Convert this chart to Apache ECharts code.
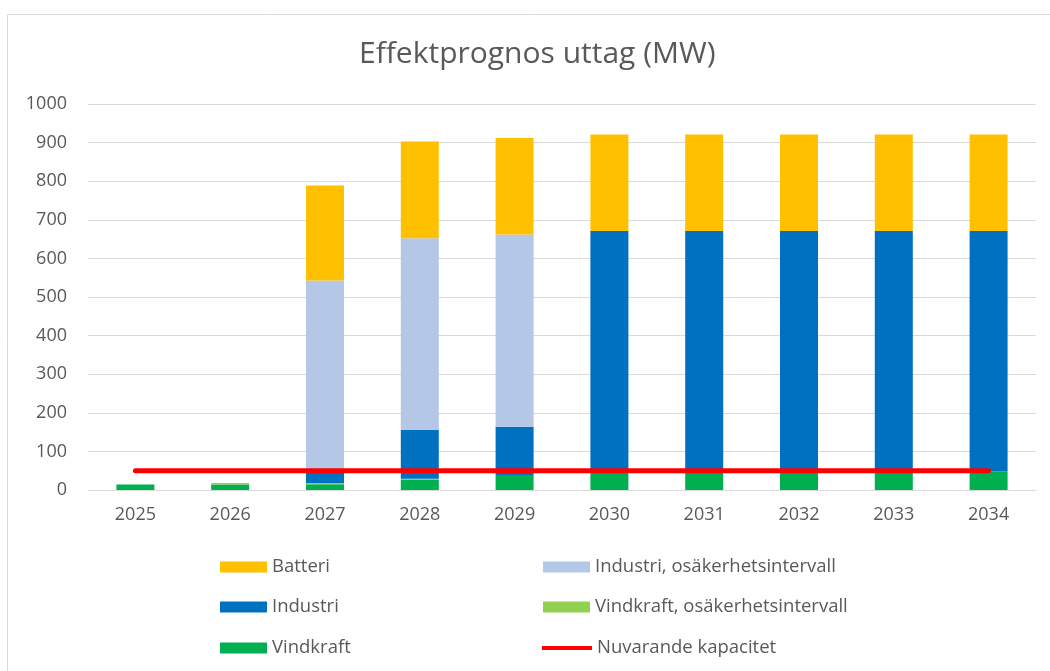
<!DOCTYPE html>
<html>
<head>
<meta charset="utf-8">
<script src="https://cdn.jsdelivr.net/npm/echarts@6/dist/echarts.min.js"></script>
<style>
html,body{margin:0;padding:0;background:#fff;}
#chart{width:1050px;height:671px;}
</style>
</head>
<body>
<div id="chart"></div>
<script>
const years = ['2025','2026','2027','2028','2029','2030','2031','2032','2033','2034'];
const vindkraft = [14, 14, 15, 26, 39, 48, 48, 48, 48, 48];
const vindkraftOsak = [0, 4, 3, 3, 0, 0, 0, 0, 0, 0];
const industri = [0, 0, 30, 127, 125, 623, 623, 623, 623, 623];
const industriOsak = [0, 0, 495, 496, 498, 0, 0, 0, 0, 0];
const batteri = [0, 0, 246, 251, 250, 250, 250, 250, 250, 250];
const nuvarandeKapacitet = [50, 50, 50, 50, 50, 50, 50, 50, 50, 50];
const yTicks = { min: 0, max: 1000, interval: 100 };

const FONT = 'Open Sans';
const GREY = '#595959';
const TITLE = 'Effektprognos uttag (MW)';
const TITLE_SIZE = 30;

function textWidth(txt, size) {
  const c = document.createElement('canvas').getContext('2d');
  c.font = size + 'px "' + FONT + '"';
  return c.measureText(txt).width;
}

const chart = echarts.init(document.getElementById('chart'), null, { renderer: 'canvas' });

function bar(name, data, color) {
  return {
    name, type: 'bar', stack: 'total', data, barWidth: 38,
    itemStyle: { color },
    emphasis: { disabled: true }
  };
}
function legendAt(name, left, top, extra) {
  return Object.assign({
    data: [name], left, top, padding: 0,
    icon: 'rect',
    itemWidth: 47, itemHeight: 11, itemGap: 0,
    selectedMode: false,
    textStyle: { fontFamily: FONT, fontSize: 18.5, color: GREY, lineHeight: 20 }
  }, extra || {});
}

chart.setOption({
  backgroundColor: '#ffffff',
  animation: false,
  title: {
    text: TITLE,
    left: Math.round(537 - textWidth(TITLE, TITLE_SIZE) / 2), top: 37, padding: 0,
    textStyle: { fontFamily: FONT, fontSize: TITLE_SIZE, fontWeight: 'normal', color: GREY, lineHeight: 34 }
  },
  graphic: [{
    type: 'rect', silent: true, z: -10,
    shape: { x: 7.5, y: 14.5, width: 1100, height: 800 },
    style: { fill: 'none', stroke: '#d9d9d9', lineWidth: 1 }
  }],
  grid: { left: 88, right: 14, top: 104, bottom: 181, containLabel: false },
  xAxis: {
    type: 'category', data: years,
    axisLine: { lineStyle: { color: '#d9d9d9', width: 1 } },
    axisTick: { show: false },
    axisLabel: { fontFamily: FONT, fontSize: 18, color: GREY, margin: 16 }
  },
  yAxis: {
    type: 'value', min: yTicks.min, max: yTicks.max, interval: yTicks.interval,
    axisLine: { show: false }, axisTick: { show: false },
    splitLine: { lineStyle: { color: '#d9d9d9', width: 1 } },
    axisLabel: { fontFamily: FONT, fontSize: 18, color: GREY, margin: 21, formatter: v => String(v) }
  },
  legend: [
    legendAt('Batteri', 220, 557),
    legendAt('Industri, osäkerhetsintervall', 543, 557),
    legendAt('Industri', 220, 597),
    legendAt('Vindkraft, osäkerhetsintervall', 543, 597),
    legendAt('Vindkraft', 220, 638),
    legendAt('Nuvarande kapacitet', 542, 638, { itemWidth: 50, itemHeight: 4 })
  ],
  series: [
    bar('Vindkraft', vindkraft, '#00B050'),
    bar('Vindkraft, osäkerhetsintervall', vindkraftOsak, '#92D050'),
    bar('Industri', industri, '#0070C0'),
    bar('Industri, osäkerhetsintervall', industriOsak, '#B4C7E7'),
    bar('Batteri', batteri, '#FFC000'),
    {
      name: 'Nuvarande kapacitet', type: 'line', data: nuvarandeKapacitet,
      symbol: 'none', z: 5,
      itemStyle: { color: '#FF0000' },
      lineStyle: { color: '#FF0000', width: 5, cap: 'round' },
      emphasis: { disabled: true }
    }
  ]
});
</script>
</body>
</html>
